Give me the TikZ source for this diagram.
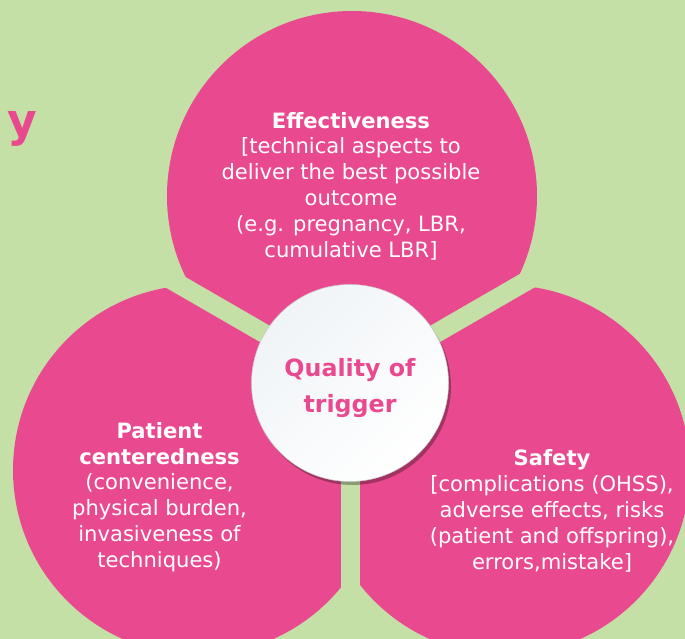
\documentclass[tikz,border=0pt]{standalone}
\usepackage{fontspec}
\setmainfont{DejaVu Sans}
\usepackage{tikz}
\usetikzlibrary{shadows,positioning}
\usepackage{xcolor}
\definecolor{Meadow}{RGB}{197,224,166}
\definecolor{Petal}{RGB}{233,74,143}
\definecolor{Mist}{RGB}{240,244,247}

\tikzset{
  petaltext/.style={text=white, align=center, inner sep=0pt,
    font=\fontsize{12}{14.7}\selectfont},
  gap/.style={draw=Meadow, line width=0.38cm, line cap=butt}
}

\begin{document}
\begin{tikzpicture}
\useasboundingbox[fill=Meadow] (0,0) rectangle (13.7,12.78);
%
% the three discs
\fill[Petal] (7.04,8.86) circle (3.7);
\fill[Petal] (3.96,3.38) circle (3.7);
\fill[Petal] (10.10,3.38) circle (3.7);
%
% green bands between the discs
\coordinate (hub) at (7.0,5.12);
\draw[gap] (hub) -- ++(150:6);
\draw[gap] (hub) -- ++(30:6);
\draw[gap] (hub) -- ++(270:6);
%
% centre disc
\node[circle, minimum size=3.94cm, inner sep=0pt, draw=gray!40, line width=0.3pt,
      top color=Mist, bottom color=white, shading angle=45,
      drop shadow={shadow xshift=0.05cm, shadow yshift=-0.07cm, opacity=0.3, fill=black}]
      (disc) at (hub) {};
\node[align=center, inner sep=0pt, text=Petal,
      font=\bfseries\fontsize{13.5}{20.4}\selectfont]
      (quality) at (7.0,5.02) {Quality of\\trigger};
%
% texts of the discs
\node[petaltext] (effect) at (7.02,9.06)
  {\textbf{Effectiveness}\\{}[technical aspects to\\deliver the best possible\\outcome\\(e.g. pregnancy, LBR,\\cumulative LBR]};
\node[petaltext] (patient) at (3.19,2.84)
  {\textbf{Patient}\\\textbf{centeredness}\\(convenience,\\physical burden,\\invasiveness of\\techniques)};
\node[petaltext] (safety) at (11.04,2.56)
  {\textbf{Safety}\\{}[complications (OHSS),\\adverse effects, risks\\(patient and offspring),\\errors,mistake]};
%
% end of the heading
\node[anchor=base east, inner sep=0pt, text=Petal,
      font=\bfseries\fontsize{26}{30}\selectfont] (heading) at (0.76,10.04) {y};
\end{tikzpicture}
\end{document}
